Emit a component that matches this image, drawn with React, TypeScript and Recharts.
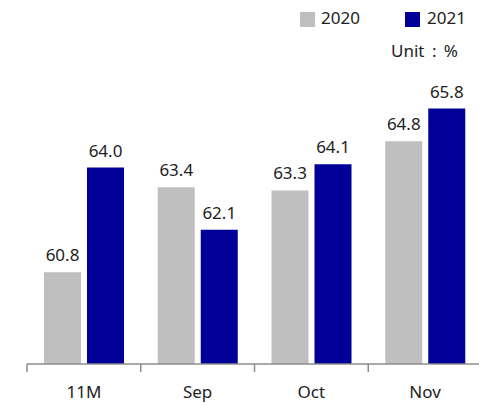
import React from "react";
import { BarChart, Bar, XAxis, YAxis, LabelList } from "recharts";

const categories = ["11M", "Sep", "Oct", "Nov"];
const values2020 = [60.8, 63.4, 63.3, 64.8];
const values2021 = [64.0, 62.1, 64.1, 65.8];
const seriesNames = ["2020", "2021"];
const unitLabel = "Unit : %";

const data = categories.map((c, i) => ({ cat: c, a: values2020[i], b: values2021[i] }));

const FONT = "'Noto Sans', sans-serif";
const CHART_W = 510;
const M_LEFT = 27;
const M_RIGHT = 28;
const BAND = (CHART_W - M_LEFT - M_RIGHT) / categories.length;

const Tick = (props: any) => {
  const { x, y, payload } = props;
  return (
    <g>
      <line x1={x - BAND / 2} x2={x - BAND / 2} y1={y - 8} y2={y} stroke="#8c8c8c" strokeWidth={1.5} />
      <text x={x} y={y + 26} textAnchor="middle" fontSize={17} fill="#222" fontFamily={FONT}>
        {payload.value}
      </text>
    </g>
  );
};

const LegendBox = () => (
  <div style={{ position: "absolute", left: 0, top: 0, width: 479, height: 70, fontFamily: FONT, fontSize: 17, color: "#222", pointerEvents: "none" }}>
    <div style={{ position: "absolute", left: 300, top: 12, width: 15, height: 15, background: "#bfbfbf" }} />
    <div style={{ position: "absolute", left: 321, top: 6, lineHeight: "24px" }}>{seriesNames[0]}</div>
    <div style={{ position: "absolute", left: 405, top: 12, width: 15, height: 15, background: "#000099" }} />
    <div style={{ position: "absolute", left: 427, top: 6, lineHeight: "24px" }}>{seriesNames[1]}</div>
    <div style={{ position: "absolute", left: 391, top: 39, lineHeight: "24px", wordSpacing: 3 }}>{unitLabel}</div>
  </div>
);

export default function App() {
  return (
    <div style={{ position: "absolute", left: 0, top: 0, width: 479, height: 404, overflow: "hidden", background: "#fff" }}>
      <BarChart
        width={CHART_W}
        height={404}
        data={data}
        margin={{ top: 102, right: M_RIGHT, bottom: 0, left: M_LEFT }}
        barCategoryGap={17}
        barGap={6}
      >
        <YAxis hide domain={[58, 66]} />
        <XAxis
          dataKey="cat"
          height={40}
          tickSize={8}
          tickMargin={0}
          tickLine={false}
          axisLine={{ stroke: "#8c8c8c", strokeWidth: 1.5 }}
          tick={<Tick />}
          interval={0}
        />
        <Bar dataKey="a" fill="#bfbfbf" isAnimationActive={false}>
          <LabelList dataKey="a" position="top" offset={11} fontSize={17} fill="#222" fontFamily={FONT} formatter={(v: any) => Number(v).toFixed(1)} />
        </Bar>
        <Bar dataKey="b" fill="#000099" isAnimationActive={false}>
          <LabelList dataKey="b" position="top" offset={11} fontSize={17} fill="#222" fontFamily={FONT} formatter={(v: any) => Number(v).toFixed(1)} />
        </Bar>
      </BarChart>
      <LegendBox />
    </div>
  );
}
